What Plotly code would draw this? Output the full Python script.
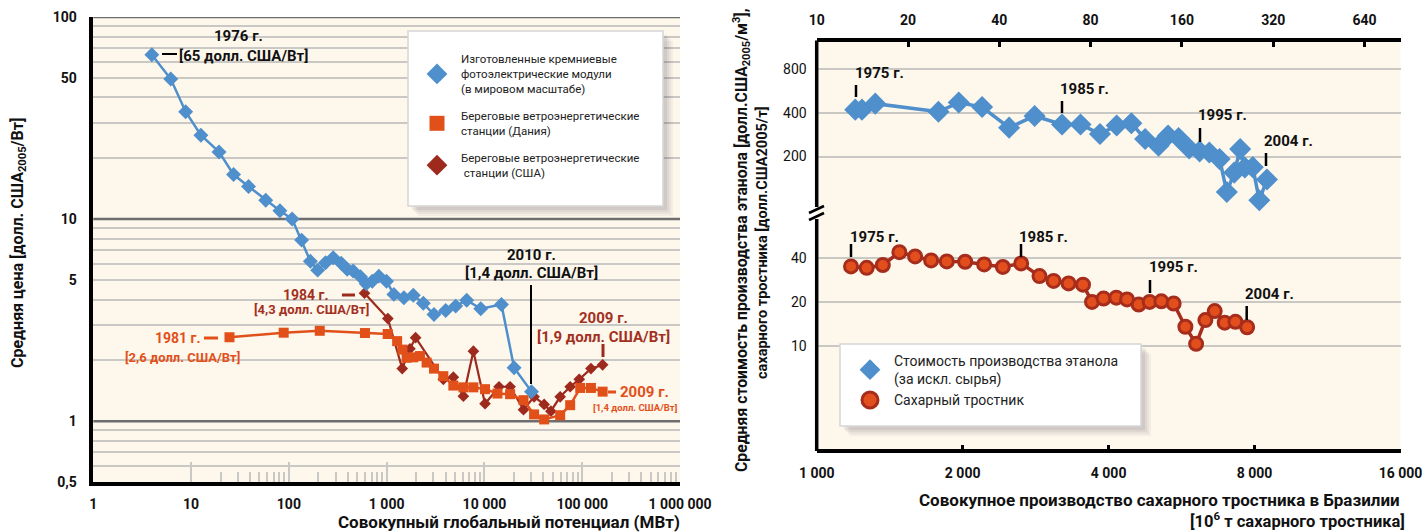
import math
import plotly.graph_objects as go

W, H = 1426, 532
FONT = "Roboto, Noto Sans, sans-serif"

# ---------------- left panel: learning curves ----------------
pv_mw = [3.97, 6.2, 8.8, 12.6, 19.3, 27.2, 38.7, 58, 81, 108, 135, 166, 197, 237,
         284, 343, 395, 455, 540, 618, 712, 832, 997, 1185, 1500, 1874, 2372,
         3048, 4015, 5086, 6590, 9170, 14930, 20100, 30300]
pv_price = [65, 49.3, 34, 26, 21.5, 16.6, 14.5, 12.4, 11.0, 10.0, 7.87, 6.18, 5.59,
            6.08, 6.44, 6.04, 5.64, 5.53, 5.19, 4.79, 4.93, 5.22, 4.93, 4.24, 4.08,
            4.20, 3.83, 3.37, 3.53, 3.71, 3.97, 3.60, 3.78, 1.84, 1.4]

dk_mw = [24.7, 88.5, 207, 600, 1025, 1280, 1450, 1600, 1874, 2190, 2563, 3048,
         3800, 4810, 6090, 7710, 10140, 13590, 18300, 25100, 32200, 40800, 59500,
         75300, 95400, 122800, 161700]
dk_price = [2.6, 2.74, 2.80, 2.73, 2.70, 2.49, 2.26, 2.06, 2.07, 2.10, 1.95, 1.82,
            1.67, 1.50, 1.47, 1.47, 1.44, 1.37, 1.36, 1.27, 1.08, 1.02, 1.07, 1.20,
            1.46, 1.46, 1.4]

us_mw = [594, 1029, 1444, 1730, 1977, 3800, 4810, 6090, 7710, 10140, 14100, 18300,
         25100, 32200, 40800, 47800, 59500, 75300, 93200, 122800, 161700]
us_price = [4.3, 3.22, 1.82, 2.28, 2.59, 1.61, 1.65, 1.33, 2.22, 1.22, 1.48, 1.48,
            1.14, 1.32, 1.21, 1.12, 1.32, 1.48, 1.61, 1.82, 1.9]

left_xticks = [1, 10, 100, 1000, 10000, 100000, 1000000]
left_xtext = ["1", "10", "100", "1 000", "10 000", "100 000", "1 000 000"]
left_yticks = [0.5, 1, 5, 10, 50, 100]
left_ytext = ["0,5", "1", "5", "10", "50", "100"]

# ---------------- right panel: Brazilian ethanol ----------------
eth_prod = [13.4, 14.1, 15.6, 25.2, 29.4, 35.1, 43.1, 52.3, 64.4, 74.1, 85.9, 97.5,
            109, 121, 134, 144, 156, 169, 183, 197, 213, 225, 238, 249, 258, 274,
            288, 305]
eth_cost = [420, 420, 462, 406, 470, 438, 316, 380, 332, 332, 286, 327, 339, 264,
            237, 279, 268, 227, 217, 213, 192, 114, 155, 225, 168, 169, 100, 139]

cane_prod = [1177, 1268, 1369, 1481, 1596, 1722, 1855, 2024, 2215, 2421, 2641,
             2881, 3080, 3308, 3542, 3697, 3905, 4149, 4366, 4614, 4861, 5139,
             5448, 5760, 6061, 6334, 6621, 6943, 7306, 7723]
cane_cost = [35.1, 34.3, 35.9, 44.0, 41.1, 38.6, 38.0, 37.8, 36.2, 34.8, 36.8,
             30.1, 27.9, 26.8, 26.3, 20.0, 21.1, 21.4, 20.8, 19.2, 20.0, 20.2,
             19.5, 13.5, 10.3, 15.0, 17.3, 14.4, 14.6, 13.4]

top_ticks = [10, 20, 40, 80, 160, 320, 640]
bottom_ticks = [1000, 2000, 4000, 8000, 16000]
bottom_text = ["1 000", "2 000", "4 000", "8 000", "16 000"]
right_yticks = [10, 20, 40, 200, 400, 800]

# colours
BLUE = "#4f8fcb"
ORANGE = "#e2501a"
DARKRED = "#9e2a1e"
DARKRED_TXT = "#a3301f"
CANE_LINE = "#a62d1c"
CANE_FILL = "#e24f1d"
CREAM = "#fdf7ec"
GRID = "#c9c8c4"
DARKGRID = "#6e6e6e"
INK = "#111111"


def X(p):
    return p / W


def Y(p):
    return 1 - p / H


fig = go.Figure()

# left panel series (drawn back to front)
fig.add_trace(go.Scatter(x=us_mw, y=us_price, mode="lines+markers", showlegend=False,
                         line=dict(color=DARKRED, width=2.2),
                         marker=dict(symbol="diamond", size=9, color=DARKRED),
                         xaxis="x", yaxis="y"))
fig.add_trace(go.Scatter(x=dk_mw, y=dk_price, mode="lines+markers", showlegend=False,
                         line=dict(color=ORANGE, width=2.5),
                         marker=dict(symbol="square", size=10, color=ORANGE),
                         xaxis="x", yaxis="y"))
fig.add_trace(go.Scatter(x=pv_mw, y=pv_price, mode="lines+markers", showlegend=False,
                         line=dict(color=BLUE, width=2.5),
                         marker=dict(symbol="diamond", size=11.5, color=BLUE),
                         xaxis="x", yaxis="y"))

# right panel series
fig.add_trace(go.Scatter(x=eth_prod, y=eth_cost, mode="lines+markers", showlegend=False,
                         line=dict(color=BLUE, width=3.5),
                         marker=dict(symbol="diamond", size=17, color=BLUE),
                         xaxis="x3", yaxis="y2"))
fig.add_trace(go.Scatter(x=cane_prod, y=cane_cost, mode="lines+markers", showlegend=False,
                         line=dict(color=CANE_LINE, width=3.5),
                         marker=dict(symbol="circle", size=13, color=CANE_FILL,
                                     line=dict(color=CANE_LINE, width=3)),
                         xaxis="x2", yaxis="y2"))

# legend entries
legend_left = [
    ("Изготовленные кремниевые<br>фотоэлектрические модули<br>(в мировом масштабе)",
     dict(symbol="diamond", size=18, color=BLUE)),
    ("Береговые ветроэнергетические<br>станции (Дания)",
     dict(symbol="square", size=15, color=ORANGE)),
    ("Береговые ветроэнергетические<br> станции (США)",
     dict(symbol="diamond", size=18, color=DARKRED)),
]
for i, (name, mk) in enumerate(legend_left):
    fig.add_trace(go.Scatter(x=[None], y=[None], mode="markers", name=name, marker=mk,
                             legend="legend", legendgroup=f"l{i}",
                             xaxis="x", yaxis="y"))

legend_right = [
    ("Стоимость производства этанола<br>(за искл. сырья)",
     dict(symbol="diamond", size=18, color=BLUE)),
    ("Сахарный тростник",
     dict(symbol="circle", size=16, color=CANE_FILL, line=dict(color=CANE_LINE, width=3))),
]
for i, (name, mk) in enumerate(legend_right):
    fig.add_trace(go.Scatter(x=[None], y=[None], mode="markers", name=name, marker=mk,
                             legend="legend2", legendgroup=f"r{i}",
                             xaxis="x2", yaxis="y2"))

left_minor_x = [m * 10 ** e for e in range(1, 6) for m in range(2, 10)]
left_minor_y = [round(m * 10 ** e, 3) for e in (-1, 0, 1) for m in range(2, 10)
                if 0.5 < m * 10 ** e < 100]

tick_bold = dict(family=FONT, size=14, color=INK, weight="bold")

fig.update_layout(
    width=W, height=H,
    margin=dict(l=0, r=0, t=0, b=0, pad=0, autoexpand=False),
    paper_bgcolor="white",
    plot_bgcolor=CREAM,
    font=dict(family=FONT, color=INK),
    xaxis=dict(domain=[X(93.3), X(680)], type="log", range=[0, 6], automargin=False,
               tickmode="array", tickvals=left_xticks, ticktext=left_xtext,
               tickfont=tick_bold, ticks="inside", ticklen=20, tickwidth=2,
               tickcolor=GRID, showgrid=False, zeroline=False,
               showline=True, linecolor="black", linewidth=3.5,
               ticklabelstandoff=6,
               minor=dict(tickvals=left_minor_x, ticks="inside", ticklen=10,
                          tickwidth=2, tickcolor=GRID, showgrid=False),
               anchor="y"),
    yaxis=dict(domain=[Y(482), Y(17)], type="log", automargin=False,
               range=[math.log10(0.5), 2],
               tickmode="array", tickvals=left_yticks, ticktext=left_ytext,
               tickfont=dict(family=FONT, size=14, color=INK, weight="bold"),
               ticks="", showgrid=False, zeroline=False,
               showline=True, linecolor="black", linewidth=3.5,
               ticklabelstandoff=10,
               minor=dict(tickvals=left_minor_y, showgrid=True, gridcolor=GRID,
                          gridwidth=2, ticks=""),
               anchor="x"),
    xaxis2=dict(domain=[X(816.7), X(1400.5)], type="log", automargin=False,
                range=[3, math.log10(16000)],
                tickmode="array", tickvals=bottom_ticks, ticktext=bottom_text,
                tickfont=tick_bold, ticks="inside", ticklen=5, tickwidth=3,
                tickcolor="black", showgrid=False, zeroline=False,
                showline=True, linecolor="black", linewidth=3.5,
                ticklabelstandoff=8, anchor="y2"),
    xaxis3=dict(type="log", range=[1, math.log10(841)], overlaying="x2", side="top",
                automargin=False,
                tickmode="array", tickvals=top_ticks,
                ticktext=[str(v) for v in top_ticks],
                tickfont=tick_bold, ticks="inside", ticklen=5, tickwidth=3,
                tickcolor="black", showgrid=False, zeroline=False,
                showline=True, linecolor="black", linewidth=3.5,
                ticklabelstandoff=8, anchor="y2"),
    yaxis2=dict(domain=[Y(449.3), Y(42.3)], type="log", range=[0.2875, 3.0866],
                automargin=False,
                tickmode="array", tickvals=right_yticks,
                ticktext=[str(v) for v in right_yticks],
                tickfont=dict(family=FONT, size=14, color=INK),
                ticks="", showgrid=True, gridcolor=GRID, gridwidth=2,
                zeroline=False, showline=False, ticklabelstandoff=9,
                anchor="x2"),
    legend=dict(x=X(413), y=Y(45), xanchor="left", yanchor="top",
                bgcolor="rgba(0,0,0,0)", font=dict(family=FONT, size=11.5, color="#222"),
                tracegroupgap=9, itemsizing="trace", itemwidth=38),
    legend2=dict(x=X(846), y=Y(345), xanchor="left", yanchor="top",
                 bgcolor="rgba(0,0,0,0)", font=dict(family=FONT, size=14, color="#222"),
                 tracegroupgap=0, itemsizing="trace", itemwidth=38),
)

shapes = []


def pline(x0, y0, x1, y1, color="black", width=2):
    shapes.append(dict(type="line", xref="paper", yref="paper",
                       x0=X(x0), y0=Y(y0), x1=X(x1), y1=Y(y1),
                       line=dict(color=color, width=width)))


def box_with_shadow(x0, y0, x1, y1):
    for k, a in ((10, 0.05), (8, 0.06), (6, 0.07), (4, 0.08)):
        shapes.append(dict(type="rect", xref="paper", yref="paper",
                           x0=X(x0 + k), y0=Y(y1 + k), x1=X(x1 + k), y1=Y(y0 + k),
                           line=dict(width=0), fillcolor=f"rgba(70,50,80,{a})"))
    shapes.append(dict(type="rect", xref="paper", yref="paper",
                       x0=X(x0), y0=Y(y1), x1=X(x1), y1=Y(y0),
                       line=dict(color="#d6d6d6", width=1.5), fillcolor="white"))


# darker reference lines at 1, 10 and 100 on the left panel
for v in (1, 10, 100):
    shapes.append(dict(type="line", xref="x domain", yref="y", x0=0, x1=1, y0=v, y1=v,
                       layer="below", line=dict(color=DARKGRID, width=2.5)))

# legend boxes
box_with_shadow(408, 31, 663, 206)
box_with_shadow(840, 344, 1141, 426)

# left panel pointer marks
pline(162, 54, 177, 54)
pline(531, 285, 531, 384)
pline(342, 295, 355, 295, DARKRED, 3)
pline(204, 338, 218, 338, ORANGE, 3)
pline(603, 344, 603, 357, DARKRED, 3)
pline(608, 392, 616, 392, ORANGE, 3)

# right panel year ticks
for xx, y0, y1 in ((856, 85, 97), (1062, 101, 113), (1200, 128, 142), (1266, 153, 166),
                   (851, 244, 257), (1021, 244, 257), (1150, 280, 293), (1246.7, 306, 320)):
    pline(xx, y0, xx, y1, "black", 2.5)

# broken left axis of the right panel
pline(816.7, 40.6, 816.7, 207, "black", 3.5)
pline(816.7, 219, 816.7, 451, "black", 3.5)
pline(809, 213, 824, 206, "black", 2.5)
pline(809, 220, 824, 213, "black", 2.5)

fig.update_layout(shapes=shapes)

ann = []


def text(x, y, s, size=15, color=INK, anchor="center", angle=0, bold=True):
    ann.append(dict(xref="paper", yref="paper", x=X(x), y=Y(y), text=s, showarrow=False,
                    xanchor=anchor, yanchor="middle", textangle=angle,
                    font=dict(family=FONT, size=size, color=color,
                              weight="bold" if bold else "normal")))


# left panel labels
text(238, 36, "1976 г.", 15)
text(177, 56, "[65 долл. США/Вт]", 15, anchor="left")
text(531, 255, "2010 г.", 15)
text(531, 273, "[1,4 долл. США/Вт]", 15)
text(331, 295, "1984 г.", 14, DARKRED_TXT, anchor="right")
text(311, 309, "[4,3 долл. США/Вт]", 13, DARKRED_TXT)
text(203, 338, "1981 г.", 14, ORANGE, anchor="right")
text(182, 357, "[2,6 долл. США/Вт]", 13, ORANGE)
text(603, 318, "2009 г.", 15, DARKRED_TXT)
text(603, 337, "[1,9 долл. США/Вт]", 15, DARKRED_TXT)
text(618, 392, "2009 г.", 15, ORANGE, anchor="left")
text(635, 407, "[1,4 долл. США/Вт]", 9.5, ORANGE)

# right panel labels
text(852.7, 72.7, "1975 г.", 15, anchor="left")
text(1058, 89.3, "1985 г.", 15, anchor="left")
text(1196, 115, "1995 г.", 15, anchor="left")
text(1262, 141, "2004 г.", 15, anchor="left")
text(847.7, 237.3, "1975 г.", 15, anchor="left")
text(1016.7, 237, "1985 г.", 15, anchor="left")
text(1146.7, 267.3, "1995 г.", 15, anchor="left")
text(1243, 294.3, "2004 г.", 15, anchor="left")

# axis titles
text(18, 243, "Средняя цена [долл. США<sub>2005</sub>/Вт]", 16, angle=-90)
text(682, 522, "Совокупный глобальный потенциал (МВт)", 17, anchor="right")
text(741, 240, "Средняя стоимость производства этанола [долл.США<sub>2005</sub>/м<sup>3</sup>],",
     15.8, angle=-90)
text(762, 243, "сахарного тростника [долл.США2005/т]", 14.5, angle=-90)
text(1402, 500, "Совокупное производство сахарного тростника в Бразилии", 17, anchor="right")
text(1407, 520, "[10<sup>6</sup> т сахарного тростника]", 16.5, anchor="right")

fig.update_layout(annotations=ann)

fig.write_html("out.html")
